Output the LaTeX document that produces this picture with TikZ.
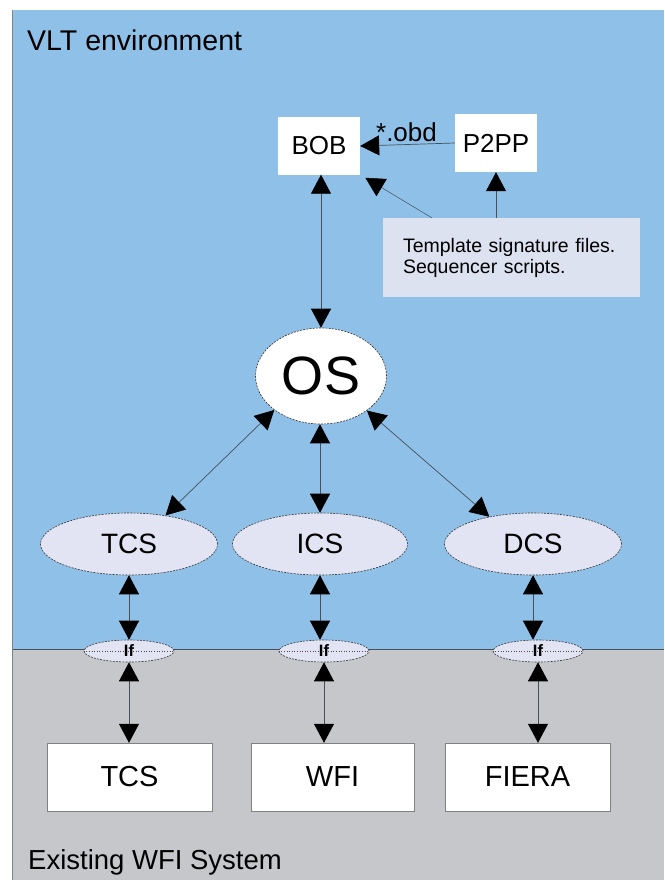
\documentclass[tikz,border=0pt]{standalone}
\usepackage{fontspec}
\setmainfont{Liberation Sans}
\usetikzlibrary{calc,positioning,arrows.meta,shapes}
\definecolor{vltblue}{RGB}{143,192,232}
\definecolor{wfigray}{RGB}{197,199,202}
\definecolor{lilac}{RGB}{226,228,243}
\definecolor{notefill}{RGB}{221,226,240}
\definecolor{linegray}{RGB}{70,80,90}
\begin{document}
\begin{tikzpicture}[x=1pt,y=-1pt,
  head/.tip={Triangle[length=19pt,width=20pt,black]},
  tip/.style={line width=.7pt,draw=linegray,arrows={-head}},
  dtip/.style={tip,arrows={head-head}},
  wbox/.style={rectangle,fill=white,inner sep=0pt},
  sbox/.style={wbox,draw=gray,minimum width=165pt,minimum height=68pt,font=\fontsize{29}{31}\selectfont},
  sub/.style={ellipse,fill=lilac,draw=black!80,dash pattern=on 2pt off 1.2pt,line width=.6pt,minimum width=177pt,minimum height=62pt,inner sep=0pt,font=\fontsize{28}{30}\selectfont},
  iface/.style={ellipse,fill=lilac,draw=black!80,dash pattern=on 2pt off 1.2pt,line width=.6pt,minimum width=90pt,minimum height=22pt,inner sep=0pt}]
  \useasboundingbox (0,0) rectangle (664,880);
  % environments
  \fill[vltblue] (12,10) rectangle (664,649);
  \fill[wfigray] (12,649) rectangle (664,880);
  \draw[linegray,line width=.8pt] (12,649) -- (664,649);
  \draw[linegray!70,line width=.6pt] (12,10) -- (12,880);
  \node[anchor=base west,inner sep=0pt,font=\fontsize{28.5}{30}\selectfont] (vlt) at (27,51) {VLT environment};
  \node[anchor=base west,inner sep=0pt,font=\fontsize{27.5}{29}\selectfont] (wfisys) at (28,869) {Existing WFI System};

  % preparation tools
  \node[wbox,minimum width=82pt,minimum height=57pt,font=\fontsize{26}{28}\selectfont] (bob) at (319,146) {BOB};
  \node[wbox,minimum width=82pt,minimum height=58pt,font=\fontsize{26}{28}\selectfont] (p2pp) at (496,143) {P2PP};
  \node[rectangle,fill=notefill,minimum width=257pt,minimum height=79pt,inner xsep=20pt,text width=217pt,align=left,
    font=\fontsize{19.5}{21}\selectfont] (note) at (511.5,257.5) {Template signature files.\\Sequencer scripts.};

  % OS and subsystems
  \node[ellipse,fill=white,draw=black!80,dash pattern=on 2pt off 1.2pt,line width=.6pt,minimum width=131pt,minimum height=96pt,inner sep=0pt,
    font=\fontsize{54}{56}\selectfont] (os) at (321,376) {OS};
  \node[sub] (tcsa) at (129,544) {TCS};
  \node[sub,minimum width=175pt] (icsa) at (320,544) {ICS};
  \node[sub] (dcsa) at (533,544) {DCS};

  \foreach \n/\x in {1/129,2/324,3/538}{
    \node[iface] (if\n) at (\x,651) {};
    \draw[black!70,dotted,line width=.6pt] (if\n.west) -- (if\n.east);
    \node[font=\bfseries\fontsize{16.5}{17}\selectfont,inner sep=1pt] at (if\n) {If};
  }

  \node[sbox] (tcsb) at (129.5,777) {TCS};
  \node[sbox,minimum width=163pt] (wfi) at (332.5,777) {WFI};
  \node[sbox] (fiera) at (527.5,777) {FIERA};

  % connections
  \draw[tip] (p2pp.west) -- node[above=2pt,font=\fontsize{26}{28}\selectfont,inner sep=0pt,xshift=-1pt] (obd) {*.obd} (bob.east);
  \draw[tip,line width=.5pt,shorten >=6pt] ([xshift=49pt]note.north west) -- (bob.south east);
  \draw[tip] (p2pp.south |- note.north) -- (p2pp.south);
  \draw[dtip] (os.north) -- (os.north |- bob.south);
  \draw[dtip] (os.216) -- (tcsa.38);
  \draw[dtip] (icsa.north) -- (icsa.north |- os.south);
  \draw[dtip] (os.-37) -- (dcsa.148);

  \draw[dtip] (tcsa.south) -- (tcsa.south |- if1.north);
  \draw[dtip] (icsa.south) -- (icsa.south |- if2.north);
  \draw[dtip] (dcsa.south) -- (dcsa.south |- if3.north);

  \draw[dtip] (if1.south) -- (if1.south |- tcsb.north);
  \draw[dtip] (if2.south) -- (if2.south |- wfi.north);
  \draw[dtip] (if3.south) -- (if3.south |- fiera.north);
\end{tikzpicture}
\end{document}
